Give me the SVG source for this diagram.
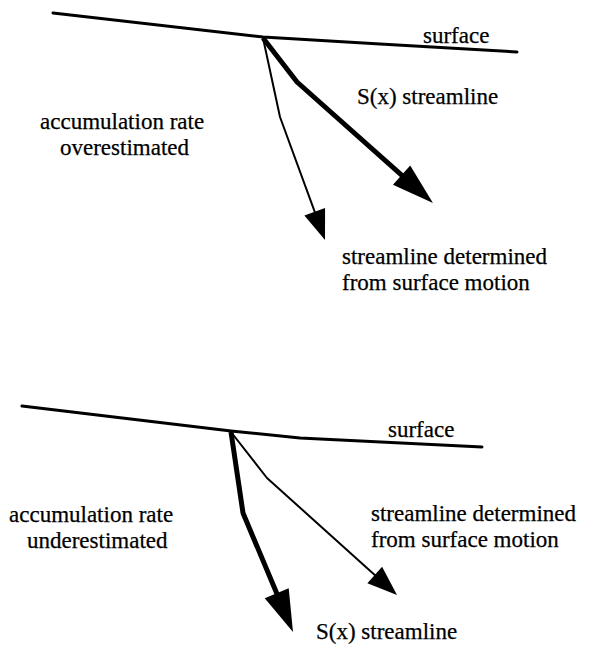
<svg xmlns="http://www.w3.org/2000/svg" width="596" height="645" viewBox="0 0 596 645">
  <style>
    .surface { fill: none; stroke: #000; stroke-width: 3; stroke-linecap: round; stroke-linejoin: round; }
    .thick { fill: none; stroke: #000; stroke-width: 5; stroke-linejoin: round; }
    .thin { fill: none; stroke: #000; stroke-width: 2; stroke-linejoin: round; }
    .lbl { font-size: 23px; fill: #000; stroke: #000; stroke-width: 0.25; }
  </style>
  <defs>
    <marker id="headBig" markerUnits="userSpaceOnUse" markerWidth="42" markerHeight="26" refX="26" refY="13" orient="auto" overflow="visible">
      <path d="M0,0 L42,13 L0,26 z" fill="#000"/>
    </marker>
    <marker id="headSmall" markerUnits="userSpaceOnUse" markerWidth="30" markerHeight="22" refX="18" refY="11" orient="auto" overflow="visible">
      <path d="M0,0 L30,11 L0,22 z" fill="#000"/>
    </marker>
  </defs>

  <g font-family="'Liberation Serif', 'DejaVu Serif', serif">
    <!-- upper case: accumulation rate overestimated -->
    <g id="surface-top">
      <path class="surface" d="M53,13 L263,37 L380,44 L517,52"/>
      <text class="lbl" x="423" y="43">surface</text>
    </g>
    <g id="label-top-rate">
      <text class="lbl" x="40" y="129">accumulation rate</text>
      <text class="lbl" x="60" y="155">overestimated</text>
    </g>
    <g id="label-top-sx">
      <text class="lbl" x="357" y="104">S(x) streamline</text>
    </g>
    <g id="label-top-motion">
      <text class="lbl" x="342" y="264">streamline determined</text>
      <text class="lbl" x="342" y="290">from surface motion</text>
    </g>

    <!-- lower case: accumulation rate underestimated -->
    <g id="surface-bottom">
      <path class="surface" d="M22,406 L231,431 L300,438 L482,447"/>
      <text class="lbl" x="388" y="437">surface</text>
    </g>
    <g id="label-bottom-rate">
      <text class="lbl" x="9" y="522">accumulation rate</text>
      <text class="lbl" x="27" y="548">underestimated</text>
    </g>
    <g id="label-bottom-motion">
      <text class="lbl" x="371" y="521">streamline determined</text>
      <text class="lbl" x="371" y="547">from surface motion</text>
    </g>
    <g id="label-bottom-sx">
      <text class="lbl" x="316" y="639">S(x) streamline</text>
    </g>
  </g>

  <g id="connectors">
    <!-- upper: S(x) streamline (thick) and surface-motion streamline (thin) -->
    <path class="thick" d="M263,38 L297,82 L421,192.4" marker-end="url(#headBig)"/>
    <path class="thin" d="M263,38 L280,117 L320.9,228.7" marker-end="url(#headSmall)"/>
    <!-- lower: S(x) streamline (thick) and surface-motion streamline (thin) -->
    <path class="thick" d="M231,432 L243,513 L286.8,617.2" marker-end="url(#headBig)"/>
    <path class="thin" d="M231,432 L267,478 L388.1,587" marker-end="url(#headSmall)"/>
  </g>
</svg>
